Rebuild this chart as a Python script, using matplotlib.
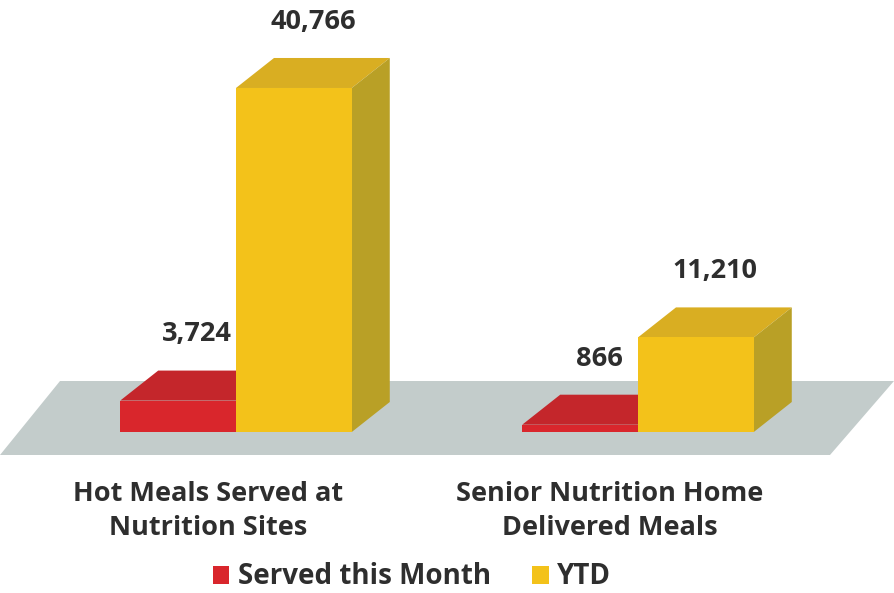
import matplotlib
matplotlib.use("Agg")
import matplotlib.pyplot as plt
from matplotlib.patches import Polygon, Patch

categories = ["Hot Meals Served at\nNutrition Sites", "Senior Nutrition Home\nDelivered Meals"]
series_names = ["Served this Month", "YTD"]
served_month = [3724, 866]
ytd = [40766, 11210]
value_labels_month = ["3,724", "866"]
value_labels_ytd = ["40,766", "11,210"]

# colours: front, top, side
RED = ("#d9262c", "#c4262b", "#a82126")
YEL = ("#f3c21a", "#d9ae22", "#b9a026")
FLOOR = "#c3cccb"
TXT = "#2e2e2e"

plt.rcParams["font.family"] = ["Open Sans", "DejaVu Sans"]

fig = plt.figure(figsize=(8.94, 5.93), dpi=100)
ax = fig.add_axes([0, 0, 1, 1])
ax.axis("off")

# pixel-ish layout: group spacing 402px, value scale ~118.5 per px
ax.set_xlim(-236 / 402, (894 - 236) / 402)
ax.set_ylim(-161 * 118.5, 432 * 118.5)

width = 0.288
dx = 38 / 402
dy = 30 * 118.5

# floor
floor = Polygon([(-236 / 402, -23 * 118.5), ((830 - 236) / 402, -23 * 118.5),
                 ((894 - 236) / 402, 51 * 118.5), ((60 - 236) / 402, 51 * 118.5)],
                closed=True, facecolor=FLOOR, edgecolor="none", zorder=1)
ax.add_patch(floor)


def bar3d(x0, h, cols, z):
    x1 = x0 + width
    ax.bar(x0, h, width=width, align="edge", color=cols[0], zorder=z + 0.2, linewidth=0)
    ax.add_patch(Polygon([(x0, h), (x0 + dx, h + dy), (x1 + dx, h + dy), (x1, h)],
                         closed=True, facecolor=cols[1], edgecolor="none", zorder=z))
    ax.add_patch(Polygon([(x1, 0), (x1 + dx, dy), (x1 + dx, h + dy), (x1, h)],
                         closed=True, facecolor=cols[2], edgecolor="none", zorder=z))


for i in range(len(categories)):
    bar3d(i - width, served_month[i], RED, 2)
    bar3d(i, ytd[i], YEL, 3)
    for x0, h, lab in [(i - width, served_month[i], value_labels_month[i]),
                       (i, ytd[i], value_labels_ytd[i])]:
        ax.annotate(lab, (x0 + width / 2 + dx / 2, h + dy), xytext=(0, 26),
                    textcoords="offset points", ha="center", va="center",
                    fontsize=19.5, fontweight="bold", color=TXT, zorder=5)
    ax.text(i - 0.07, -79 * 118.5, categories[i], ha="center", va="center",
            fontsize=19.5, fontweight="bold", color=TXT, linespacing=1.4)

handles = [Patch(facecolor=RED[0], edgecolor="none"), Patch(facecolor=YEL[0], edgecolor="none")]
leg = fig.legend(handles, series_names, loc="center", bbox_to_anchor=(412 / 894, 1 - 577 / 593),
                 ncol=2, frameon=False, handlelength=0.6, handleheight=0.6, handletextpad=0.3,
                 columnspacing=1.5, prop={"family": "Open Sans", "weight": "bold", "size": 20})
for t in leg.get_texts():
    t.set_color(TXT)

fig.savefig("out.png", dpi=100)
